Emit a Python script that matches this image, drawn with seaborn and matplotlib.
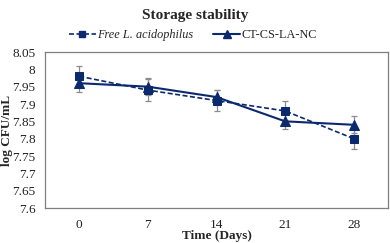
import matplotlib
matplotlib.use("Agg")
import matplotlib.pyplot as plt
import seaborn as sns
import pandas as pd
import numpy as np

days = ["0", "7", "14", "21", "28"]
free_vals = [7.98, 7.94, 7.91, 7.88, 7.80]
free_err = [0.03, 0.032, 0.03, 0.03, 0.03]
nc_vals = [7.96, 7.95, 7.92, 7.85, 7.84]
nc_err = [0.025, 0.025, 0.02, 0.023, 0.025]
yticks = [7.6, 7.65, 7.7, 7.75, 7.8, 7.85, 7.9, 7.95, 8.0, 8.05]
ytick_labels = ["7.6", "7.65", "7.7", "7.75", "7.8", "7.85", "7.9", "7.95", "8", "8.05"]

sns.set_theme(style="white")
plt.rcParams["font.family"] = ["Liberation Serif", "DejaVu Serif"]

navy = "#0b2a6e"
errc = "#8c8c8c"

fig = plt.figure(figsize=(3.9, 2.43), dpi=100)
ax = fig.add_axes([45/390, 1-208/243, (388-45)/390, (208-52)/243])

pos = np.arange(len(days))
df = pd.DataFrame({"pos": np.concatenate([pos, pos]),
                   "val": free_vals + nc_vals,
                   "series": ["Free"] * 5 + ["NC"] * 5})

ax.errorbar(pos, free_vals, yerr=free_err, fmt="none", ecolor=errc, elinewidth=0.9, capsize=2.5, capthick=0.9, zorder=1)
ax.errorbar(pos, nc_vals, yerr=nc_err, fmt="none", ecolor=errc, elinewidth=0.9, capsize=2.5, capthick=0.9, zorder=1)

sns.lineplot(data=df[df.series == "Free"], x="pos", y="val", ax=ax, color=navy,
             linestyle=(0, (3, 1.5)), linewidth=1.2, marker="s", markersize=5.5,
             markeredgecolor=navy, zorder=3, legend=False)
sns.lineplot(data=df[df.series == "NC"], x="pos", y="val", ax=ax, color=navy,
             linestyle="-", linewidth=1.5, marker="^", markersize=6.5,
             markeredgecolor=navy, zorder=3, legend=False)

ax.set_xlim(-0.5, len(days) - 0.5)
ax.set_ylim(7.6, 8.05)
ax.set_xticks(pos)
ax.set_xticklabels(days, fontsize=9.5)
ax.set_yticks(yticks)
ax.set_yticklabels(ytick_labels, fontsize=9.5)
ax.tick_params(axis="both", length=0, pad=8, colors="#222222")
ax.tick_params(axis="y", pad=7)
ax.set_xlabel("Time (Days)", fontsize=9.5, fontweight="bold")
ax.xaxis.set_label_coords(0.5, -(236-208)/156, transform=ax.transAxes)
ax.xaxis.label.set_va("center")
ax.set_ylabel("log CFU/mL", fontsize=9.5, fontweight="bold")
ax.yaxis.set_label_coords(-(45-7)/343, 0.5, transform=ax.transAxes)
ax.yaxis.label.set_va("center")
for s in ax.spines.values():
    s.set_color("#7f7f7f")
    s.set_linewidth(0.9)
ax.grid(False)

fig.text(0.5, 1-15/243, "Storage stability", ha="center", va="center", fontsize=11, fontweight="bold")

from matplotlib.lines import Line2D
h1 = Line2D([], [], color=navy, linestyle=(0, (3, 1.5)), linewidth=1.2, marker="s", markersize=5)
h2 = Line2D([], [], color=navy, linestyle="-", linewidth=1.5, marker="^", markersize=6)
leg = fig.legend([h1, h2], ["Free L. acidophilus", "CT-CS-LA-NC"], loc="center",
                 bbox_to_anchor=(0.495, 1-35/243), ncol=2, frameon=False, fontsize=8.8,
                 handlelength=2.2, columnspacing=1.6, handletextpad=0.15)
leg.get_texts()[0].set_fontstyle("italic")

fig.savefig("out.png", dpi=100)
